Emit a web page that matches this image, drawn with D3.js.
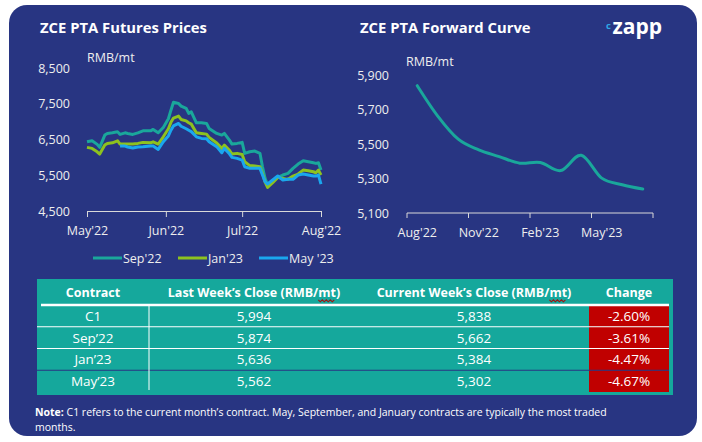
<!DOCTYPE html>
<html>
<head>
<meta charset="utf-8">
<script src="https://cdn.jsdelivr.net/npm/d3@7"></script>
<style>
  body { margin: 0; background: #fff; }
  text { font-family: "Open Sans", "Noto Sans", sans-serif; }
</style>
</head>
<body>
<script>
// ---------------- data ----------------
var priceDates = ["2022-05-01","2022-05-03","2022-05-05","2022-05-06","2022-05-08","2022-05-09","2022-05-11","2022-05-13",
  "2022-05-14","2022-05-16","2022-05-17","2022-05-19","2022-05-21","2022-05-23","2022-05-26","2022-05-27","2022-05-29","2022-05-31",
  "2022-06-02","2022-06-03","2022-06-04","2022-06-06","2022-06-07","2022-06-09","2022-06-10","2022-06-11","2022-06-13","2022-06-15",
  "2022-06-17","2022-06-18","2022-06-21","2022-06-23","2022-06-24","2022-06-26","2022-06-27","2022-06-29","2022-07-01","2022-07-02",
  "2022-07-04","2022-07-06","2022-07-08","2022-07-09","2022-07-10","2022-07-11","2022-07-13","2022-07-15","2022-07-17","2022-07-19",
  "2022-07-21","2022-07-23","2022-07-25","2022-07-27","2022-07-29","2022-07-30","2022-07-31","2022-08-01"];
var sep22 = [6436,6464,6363,6279,6623,6670,6687,6715,6642,6687,6670,6642,6687,6743,6743,6782,6687,6838,7080,7320,
  7540,7508,7433,7369,7229,7274,6966,6966,6950,6810,6670,6623,6670,6483,6372,6391,6420,6112,6156,6176,
  6112,5737,5413,5226,5346,5441,5506,5553,5693,5813,5905,5877,5849,5832,5849,5645];
var jan23 = [6279,6251,6156,6092,6343,6391,6408,6464,6372,6372,6372,6372,6391,6419,6408,6436,6372,6575,6800,6980,
  7100,7154,7061,7020,6970,6930,6687,6670,6650,6560,6400,6251,6343,6200,6092,6112,6080,5877,5770,5757,
  5737,5553,5318,5162,5290,5441,5413,5385,5478,5534,5645,5626,5598,5570,5645,5506];
var may23 = [null,null,null,null,null,null,null,null,6316,6316,6290,6260,6290,6296,6316,6316,6223,6436,6600,6760,
  6880,6950,6870,6800,6760,6720,6575,6531,6520,6440,6300,6130,6251,6100,6000,5972,5925,5737,5693,5693,
  5693,5506,5318,5254,5366,5478,5366,5385,5385,5506,5534,5506,5478,5478,5506,5254];
var seriesNames = ["Sep'22", "Jan'23", "May '23"];
var priceTicks = [4500, 5500, 6500, 7500, 8500];
var monthTicks = ["2022-05-01", "2022-06-01", "2022-07-01", "2022-08-01"];

var curveMonths = ["Aug'22","Sep'22","Oct'22","Nov'22","Dec'22","Jan'23","Feb'23","Mar'23","Apr'23","May'23","Jun'23","Jul'23"];
var curveValues = [5838, 5662, 5528, 5466, 5427, 5389, 5393, 5346, 5435, 5302, 5264, 5239];
var curveTicks = [5100, 5300, 5500, 5700, 5900];
var curveLabels = ["Aug'22", "Nov'22", "Feb'23", "May'23"];

var contracts = ["C1", "Sep\u201922", "Jan\u201923", "May\u201923"];
var lastClose = ["5,994", "5,874", "5,636", "5,562"];
var currentClose = ["5,838", "5,662", "5,384", "5,302"];
var changes = ["-2.60%", "-3.61%", "-4.47%", "-4.67%"];
var headers = ["Contract", "Last Week\u2019s Close (RMB/mt)", "Current Week\u2019s Close (RMB/mt)", "Change"];

// ---------------- setup ----------------
var width = 702, height = 442;
var navy = "#283582", teal = "#15a89c", white = "#ffffff";
var colors = ["#1aa79b", "#8dc21f", "#1aa7ee"];

var svg = d3.select("body").append("svg")
  .attr("width", width)
  .attr("height", height);

svg.append("rect")
  .attr("x", 9).attr("y", 5)
  .attr("width", 688).attr("height", 431)
  .attr("rx", 18)
  .attr("fill", navy);

// titles
svg.append("text").attr("x", 40).attr("y", 33)
  .attr("fill", white).attr("font-size", 14.8).attr("font-weight", 700)
  .text("ZCE PTA Futures Prices");
svg.append("text").attr("x", 360).attr("y", 33)
  .attr("fill", white).attr("font-size", 14.8).attr("font-weight", 700)
  .text("ZCE PTA Forward Curve");

// logo
svg.append("text").attr("x", 606).attr("y", 28.5)
  .attr("fill", "#2ea8e6").attr("font-size", 9.5).attr("font-weight", 700)
  .text("c");
svg.append("text").attr("x", 612.5).attr("y", 34)
  .attr("fill", white).attr("font-size", 21).attr("font-weight", 700)
  .text("zapp");

// ---------------- left chart: futures prices ----------------
var parse = d3.timeParse("%Y-%m-%d");
var dates = priceDates.map(parse);

var x = d3.scaleTime()
  .domain([parse("2022-05-01"), parse("2022-08-01")])
  .range([87, 321]);
var y = d3.scaleLinear().domain([4500, 8500]).range([211, 68]);

var fmtMonth = d3.timeFormat("%b'%y");
var xAxis = svg.append("g")
  .attr("transform", "translate(0,211)")
  .call(d3.axisBottom(x)
    .tickValues(monthTicks.map(parse))
    .tickSize(6)
    .tickSizeOuter(0)
    .tickFormat(fmtMonth));
xAxis.selectAll("path, line").attr("stroke", "#d9d9d9");
xAxis.selectAll("text").attr("fill", "#eeeeee").attr("font-size", 12.5)
  .attr("font-family", "Open Sans").attr("dy", "1.2em");

var yAxis = svg.append("g")
  .attr("transform", "translate(73,0)")
  .call(d3.axisLeft(y).tickValues(priceTicks).tickSize(0).tickFormat(d3.format(",")));
yAxis.select(".domain").remove();
yAxis.selectAll("text").attr("fill", "#eeeeee").attr("font-size", 12.5)
  .attr("font-family", "Open Sans");

svg.append("text").attr("x", 87).attr("y", 62)
  .attr("fill", "#eeeeee").attr("font-size", 12.5).text("RMB/mt");

var line = d3.line()
  .defined(function(d) { return d.v != null; })
  .x(function(d) { return x(d.date); })
  .y(function(d) { return y(d.v); });

[sep22, jan23, may23].forEach(function(vals, i) {
  var pts = vals.map(function(v, j) { return { date: dates[j], v: v }; });
  svg.append("path")
    .attr("d", line(pts))
    .attr("fill", "none")
    .attr("stroke", colors[i])
    .attr("stroke-width", 3)
    .attr("stroke-linejoin", "round");
});

// legend
var legendX = [93, 178, 259];
seriesNames.forEach(function(name, i) {
  svg.append("line")
    .attr("x1", legendX[i]).attr("x2", legendX[i] + 29)
    .attr("y1", 258).attr("y2", 258)
    .attr("stroke", colors[i]).attr("stroke-width", 3);
  svg.append("text")
    .attr("x", legendX[i] + 30).attr("y", 262.5)
    .attr("fill", "#eeeeee").attr("font-size", 12.5)
    .text(name);
});

// ---------------- right chart: forward curve ----------------
var xb = d3.scaleBand().domain(curveMonths).range([407, 653]);
var y2 = d3.scaleLinear().domain([5100, 5900]).range([213, 75]);

var axisG = svg.append("g");
axisG.append("line")
  .attr("x1", xb.range()[0]).attr("x2", xb.range()[1])
  .attr("y1", 213).attr("y2", 213)
  .attr("stroke", "#d9d9d9");
d3.range(0, curveMonths.length + 1, 3).forEach(function(k) {
  var tx = xb.range()[0] + k * xb.step();
  axisG.append("line")
    .attr("x1", tx).attr("x2", tx)
    .attr("y1", 213).attr("y2", 218)
    .attr("stroke", "#d9d9d9");
});
curveLabels.forEach(function(m) {
  axisG.append("text")
    .attr("x", xb(m) + xb.bandwidth() / 2).attr("y", 237)
    .attr("text-anchor", "middle")
    .attr("fill", "#eeeeee").attr("font-size", 12.5)
    .text(m);
});

var yAxis2 = svg.append("g")
  .attr("transform", "translate(392,0)")
  .call(d3.axisLeft(y2).tickValues(curveTicks).tickSize(0).tickFormat(d3.format(",")));
yAxis2.select(".domain").remove();
yAxis2.selectAll("text").attr("fill", "#eeeeee").attr("font-size", 12.5)
  .attr("font-family", "Open Sans");

svg.append("text").attr("x", 406).attr("y", 66)
  .attr("fill", "#eeeeee").attr("font-size", 12.5).text("RMB/mt");

var curveLine = d3.line()
  .x(function(d) { return xb(d.m) + xb.bandwidth() / 2; })
  .y(function(d) { return y2(d.v); })
  .curve(d3.curveCardinal.tension(0));

svg.append("path")
  .attr("d", curveLine(curveMonths.map(function(m, i) { return { m: m, v: curveValues[i] }; })))
  .attr("fill", "none")
  .attr("stroke", colors[0])
  .attr("stroke-width", 3)
  .attr("stroke-linecap", "round");

// ---------------- table ----------------
var tLeft = 37, tRight = 673, tTop = 279, tBottom = 395;
var headerBottom = 305;
var rowY = d3.scaleBand().domain(d3.range(4)).range([headerBottom, 392]);
var colCenters = [93, 254, 474, 629];

svg.append("rect")
  .attr("x", tLeft).attr("y", tTop)
  .attr("width", tRight - tLeft).attr("height", tBottom - tTop)
  .attr("fill", teal);

// red change cells
svg.selectAll("rect.chg").data(changes).enter().append("rect")
  .attr("class", "chg")
  .attr("x", 589).attr("y", function(d, i) { return rowY(i); })
  .attr("width", 80).attr("height", rowY.bandwidth())
  .attr("fill", "#c00000");

// header line
svg.append("line")
  .attr("x1", 41).attr("x2", 669)
  .attr("y1", headerBottom).attr("y2", headerBottom)
  .attr("stroke", white).attr("stroke-width", 2.5);

// row separators
[1, 2, 3].forEach(function(i) {
  svg.append("line")
    .attr("x1", tLeft).attr("x2", 669)
    .attr("y1", rowY(i)).attr("y2", rowY(i))
    .attr("stroke", i === 3 ? navy : white).attr("stroke-width", 1);
});

// vertical divider
svg.append("line")
  .attr("x1", 149).attr("x2", 149)
  .attr("y1", headerBottom + 1).attr("y2", 390)
  .attr("stroke", white).attr("stroke-width", 1);

// header texts
headers.forEach(function(h, i) {
  var t = svg.append("text")
    .attr("x", colCenters[i]).attr("y", 297)
    .attr("text-anchor", "middle")
    .attr("fill", white).attr("font-size", 12.5).attr("font-weight", 700)
    .text(h);
  var idx = h.indexOf("mt)");
  if (idx >= 0) {
    var node = t.node();
    var x0 = node.getStartPositionOfChar(idx).x;
    var x1 = node.getEndPositionOfChar(idx + 1).x;
    var pts = [];
    for (var px = x0; px <= x1; px += 2) {
      pts.push([px, 300.5 + (Math.round((px - x0) / 2) % 2 ? 1.3 : -0.7)]);
    }
    svg.append("path")
      .attr("d", d3.line()(pts))
      .attr("fill", "none").attr("stroke", "#a01010").attr("stroke-width", 1.1);
  }
});

// body texts
[contracts, lastClose, currentClose, changes].forEach(function(col, c) {
  col.forEach(function(v, r) {
    svg.append("text")
      .attr("x", colCenters[c])
      .attr("y", rowY(r) + rowY.bandwidth() / 2 + 5)
      .attr("text-anchor", "middle")
      .attr("fill", white).attr("font-size", 13.5)
      .text(v);
  });
});

// ---------------- note ----------------
var note = svg.append("text").attr("x", 35).attr("y", 416)
  .attr("fill", white).attr("font-size", 10.5);
note.append("tspan").attr("font-weight", 700).text("Note:");
note.append("tspan").text(" C1 refers to the current month\u2019s contract. May, September, and January contracts are typically the most traded");
svg.append("text").attr("x", 35).attr("y", 431)
  .attr("fill", white).attr("font-size", 10.5)
  .text("months.");
</script>
</body>
</html>
